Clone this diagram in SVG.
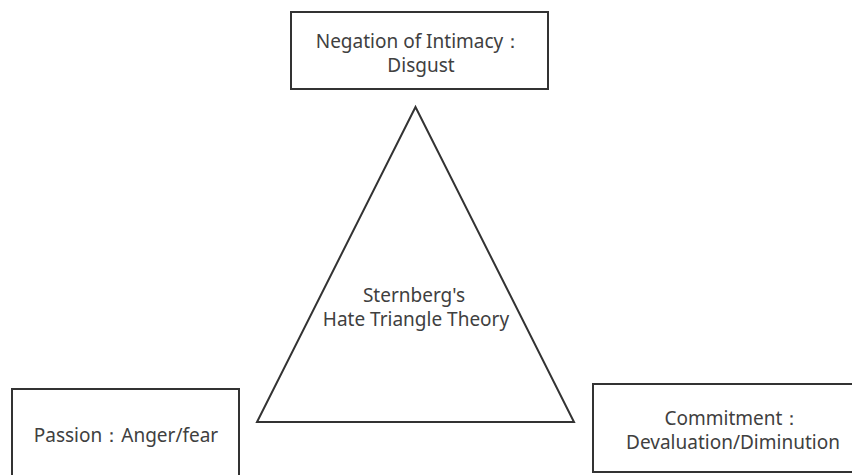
<svg xmlns="http://www.w3.org/2000/svg" width="852" height="475" viewBox="0 0 852 475">
<style>
.box{fill:#fff;stroke:#333;stroke-width:2}
.tri{fill:#fff;stroke:#333;stroke-width:2;stroke-linejoin:miter}
text{font-family:"Noto Sans","Open Sans",sans-serif;font-size:19px;fill:#404040;text-anchor:middle}
</style>
<rect width="852" height="475" fill="#fff"/>
<g id="center">
<polygon class="tri" points="415.5,107 257,422 574,422"/>
<text x="414" y="302">Sternberg's</text>
<text x="416" y="326">Hate Triangle Theory</text>
</g>
<g id="intimacy">
<rect class="box" x="291" y="12" width="257" height="77"/>
<text x="419" y="48">Negation of Intimacy：</text>
<text x="421" y="72">Disgust</text>
</g>
<g id="passion">
<rect class="box" x="12" y="389" width="227" height="95"/>
<text x="126" y="442">Passion：Anger/fear</text>
</g>
<g id="commitment">
<rect class="box" x="593" y="384" width="280" height="88"/>
<text x="733" y="425">Commitment：</text>
<text x="733" y="449">Devaluation/Diminution</text>
</g>
<g id="connectors"></g>
</svg>
